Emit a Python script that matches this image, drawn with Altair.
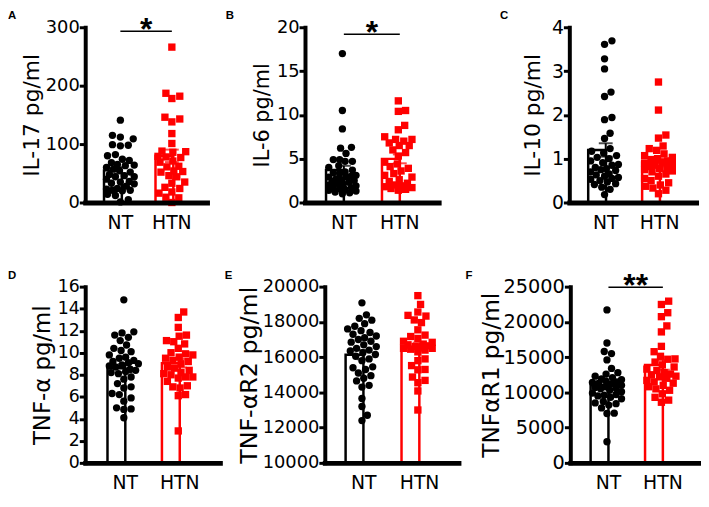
import altair as alt
import pandas as pd

GROUPS = ["NT", "HTN"]

# ---------------- data ----------------
il17_nt = [141, 115, 112, 109, 99, 97, 98, 82, 80, 74, 72, 65, 63, 64, 57, 55, 46, 44, 35, 33,
           23, 21, 14, 12, 5, 1, 68, 60, 52, 48, 44, 40, 36, 32, 28, 24, 20, 21]
il17_htn = [266, 182, 178, 187, 143, 138, 146, 118, 101, 88, 86, 87, 79, 77, 78, 71, 69, 62, 61,
            54, 52, 53, 46, 44, 35, 33, 26, 24, 18, 16, 9, 8, 0]

il6_nt = [17.0, 10.5, 8.4, 6.2, 6.3, 5.6, 4.9, 4.7, 4.9, 4.7, 4.2, 4.0, 3.7, 3.5, 3.3, 3.4, 3.1,
          3.0, 2.9, 2.9, 2.6, 2.7, 2.5, 2.3, 2.4, 2.2, 2.1, 2.0, 1.9, 1.7, 1.8, 1.6, 1.5, 1.4, 1.2,
          1.3, 1.1, 1.0]
il6_htn = [11.6, 10.4, 10.5, 8.8, 8.3, 7.5, 7.2, 7.2, 6.8, 6.5, 7.0, 6.5, 6.0, 5.7, 5.3, 4.6, 4.4,
           4.1, 3.9, 3.6, 3.3, 3.1, 2.9, 2.6, 2.4, 2.2, 2.0, 1.9, 1.8, 1.7, 1.6, 1.5, 1.4]

il10_nt = [3.61, 3.69, 3.28, 3.05, 2.42, 2.52, 1.94, 1.89, 1.58, 1.46, 1.23, 1.17, 1.13, 1.07,
           1.03, 1.00, 0.95, 0.91, 0.87, 0.85, 0.80, 0.77, 0.75, 0.73, 0.70, 0.65, 0.63, 0.60,
           0.57, 0.55, 0.53, 0.50, 0.47, 0.43, 0.41, 0.35, 0.30, 0.18]
il10_htn = [2.75, 2.11, 1.54, 1.47, 1.29, 1.23, 1.19, 1.11, 1.07, 1.03, 1.00, 0.98, 0.95, 0.92,
            0.90, 0.87, 0.85, 0.82, 0.80, 0.78, 0.75, 0.72, 0.70, 0.65, 0.60, 0.55, 0.50, 0.45,
            0.40, 0.37, 0.33, 0.28, 0.20]

tnfa_nt = [14.8, 11.9, 11.8, 11.6, 11.4, 11.1, 10.7, 10.4, 10.2, 10.1, 9.8, 9.5, 9.3, 9.2, 8.9,
           9.0, 8.4, 7.8, 8.1, 7.2, 6.9, 6.8, 6.3, 5.9, 6.2, 5.6, 5.0, 4.9, 4.85, 4.1, 8.7, 8.5,
           8.8, 8.3, 9.1, 8.2, 7.6, 9.6]
tnfa_htn = [13.7, 13.2, 12.3, 11.6, 11.0, 11.5, 10.8, 11.1, 10.4, 9.9, 9.8, 10.0, 9.6, 9.5, 9.3,
            9.2, 9.0, 8.7, 8.6, 8.4, 8.1, 8.0, 7.8, 6.9, 6.8, 6.2, 6.1, 2.9, 7.4, 7.7, 8.2, 7.0,
            7.8]

tnfr2_nt = [19080, 18400, 18200, 18100, 17900, 17750, 17600, 17500, 17400, 17300, 17200, 17100,
            17000, 16900, 16850, 16700, 16600, 16500, 16400, 16350, 16250, 16150, 16050, 15900,
            15800, 15450, 15400, 15300, 15100, 14950, 14800, 14650, 14400, 14300, 13650, 13200,
            12700, 12400]
tnfr2_htn = [19490, 18990, 18560, 18370, 18330, 18110, 17960, 17550, 17250, 17170, 17060, 16840,
             16740, 16640, 16600, 16500, 16450, 16400, 16550, 15800, 15900, 15520, 15300, 15280,
             14870, 14550, 14680, 14080, 13000, 16700, 16300, 16900, 16500]

tnfr1_nt = [21700, 17000, 15800, 15500, 14600, 13400, 12800, 12600, 12300, 12100, 11900, 11800,
            11600, 11500, 11400, 11300, 11200, 11000, 10800, 10700, 10600, 10500, 10300, 10100,
            9900, 9700, 9500, 9300, 9100, 8700, 8500, 8400, 7800, 7000, 7050, 8200, 9600, 3000]
tnfr1_htn = [22940, 22470, 20740, 21300, 19430, 18580, 16530, 15770, 15120, 14750, 14700, 14300,
             13900, 13600, 13300, 13100, 12800, 12600, 12300, 12500, 12200, 12000, 11700, 11500,
             11300, 11000, 10800, 10500, 10300, 9800, 9300, 8900, 8600]

# ---------------- styling ----------------
FONT = "DejaVu Sans"
BOLD_FONT = "Liberation Sans"
BLACK = "#000000"
RED = "#ff0000"
DOT = 8.0  # marker diameter (px) used by the swarm layout


def swarm(values, px_per_unit, half_band):
    """Deterministic beeswarm: horizontal offsets (in half-band units)."""
    limit = half_band - 2.0
    cands = [0.0]
    k = 1
    while k <= limit:
        cands += [float(k), float(-k)]
        k += 1
    placed = []
    out = [0.0] * len(values)
    for i in sorted(range(len(values)), key=lambda j: values[j]):
        y = values[i] * px_per_unit
        chosen, best_x, best_d = None, 0.0, -1.0
        for cx in cands:
            if placed:
                d = min(((cx - px) ** 2 + (y - py) ** 2) ** 0.5 for px, py in placed)
            else:
                d = 1e9
            if d >= DOT:
                chosen = cx
                break
            if d > best_d:
                best_d, best_x = d, cx
        if chosen is None:
            chosen = best_x
        placed.append((chosen, y))
        out[i] = chosen / half_band
    return out


def panel(letter, nt, htn, domain, ticks, title, axis_len, height, p_in, p_out,
          label_size, title_size, title_pad, letter_dx, letter_dy, cell_width, sig=None):
    step = axis_len / (2 - p_in + 2 * p_out)
    half_band = step * (1 - p_in) / 2
    ppu = height / (domain[1] - domain[0])
    rows = []
    for g, vals in (("NT", nt), ("HTN", htn)):
        offs = swarm([v - domain[0] for v in vals], ppu, half_band)
        for v, o in zip(vals, offs):
            rows.append({"group": g, "value": v, "off": o})
    df = pd.DataFrame(rows)

    xscale = alt.Scale(domain=GROUPS, paddingInner=p_in, paddingOuter=p_out,
                       range=[0, axis_len])
    yscale = alt.Scale(domain=domain, nice=False, zero=False)
    cscale = alt.Scale(domain=GROUPS, range=[BLACK, RED])
    xaxis = alt.Axis(title=None, labelAngle=0, ticks=False, domainWidth=5,
                     domainColor=BLACK, domainCap="square", labelFont=FONT,
                     labelFontSize=19, labelColor=BLACK, labelPadding=11, zindex=1)
    yaxis = alt.Axis(values=ticks, format="d", title=title, titleFont=FONT,
                     titleFontSize=title_size, titleFontWeight="normal", titleColor=BLACK,
                     titlePadding=title_pad, labelFont=FONT, labelFontSize=label_size,
                     labelColor=BLACK, labelPadding=0, labelFlush=False, labelOverlap=False,
                     tickSize=6, tickWidth=3, tickColor=BLACK, domainWidth=4,
                     domainColor=BLACK, domainCap="square", grid=False, zindex=1)

    base = alt.Chart(df)
    x = alt.X("group:N", scale=xscale, axis=xaxis, sort=GROUPS)
    bars = base.mark_bar(fill="white", strokeWidth=2.5).encode(
        x=x,
        y=alt.Y("mean(value):Q", scale=yscale, axis=yaxis),
        y2=alt.datum(domain[0]),
        stroke=alt.Stroke("group:N", scale=cscale, legend=None),
    )
    err = base.mark_errorbar(extent="stderr", ticks={"size": 14}, thickness=2).encode(
        x=x,
        y=alt.Y("value:Q", scale=yscale, axis=yaxis),
        color=alt.Color("group:N", scale=cscale, legend=None),
    )
    pts = base.mark_point(filled=True, opacity=1, size=55, strokeWidth=0).encode(
        x=x,
        xOffset=alt.XOffset("off:Q", scale=alt.Scale(domain=[-1, 1])),
        y=alt.Y("value:Q", scale=yscale, axis=yaxis),
        shape=alt.Shape("group:N", scale=alt.Scale(domain=GROUPS, range=["circle", "square"]),
                        legend=None),
        color=alt.Color("group:N", scale=cscale, legend=None),
    )
    layers = [bars, err, pts]
    if sig is not None:
        sdf = pd.DataFrame([{"a": "NT", "b": "HTN", "y": sig[0], "label": sig[1]}])
        rule = alt.Chart(sdf).mark_rule(color=BLACK, strokeWidth=1.5).encode(
            x=alt.X("a:N", scale=xscale, axis=xaxis, sort=GROUPS),
            x2="b:N",
            y=alt.Y("y:Q", scale=yscale, axis=yaxis),
        )
        star = alt.Chart(sdf).mark_text(font=BOLD_FONT, fontSize=32, fontWeight="bold",
                                        baseline="alphabetic", align="center", dy=9,
                                        dx=step * p_in / 2, color=BLACK).encode(
            x=alt.X("a:N", scale=xscale, axis=xaxis, sort=GROUPS, bandPosition=1),
            y=alt.Y("y:Q", scale=yscale, axis=yaxis),
            text="label:N",
        )
        layers += [rule, star]
    return alt.layer(*layers).properties(
        width=cell_width,
        height=height,
        title=alt.TitleParams(letter, anchor="start", frame="group", dx=letter_dx,
                              dy=letter_dy, offset=0, font=BOLD_FONT, fontSize=11.5,
                              fontWeight="bold", color=BLACK),
    )


A = panel("A", il17_nt, il17_htn, [0, 300], [0, 100, 200, 300], "IL-17 pg/ml",
          123, 177, 0.365, 0.365, 18, 22, 2, -78, 7.5, 222, sig=(293, "*"))
B = panel("B", il6_nt, il6_htn, [0, 20], [0, 5, 10, 15, 20], "IL-6 pg/ml",
          135, 177, 0.363, 0.376, 18, 21, 4, -80, 4.5, 267, sig=(19.2, "*"))
C = panel("C", il10_nt, il10_htn, [0, 4], [0, 1, 2, 3, 4], "IL-10 pg/ml",
          128, 177, 0.35, 0.35, 19, 22, 7, -70, 3.6, 128)
D = panel("D", tnfa_nt, tnfa_htn, [0, 16], list(range(0, 17, 2)), "TNF-α pg/ml",
          136, 178, 0.345, 0.409, 17.5, 23, 3, -78, 3.6, 242)
E = panel("E", tnfr2_nt, tnfr2_htn, [10000, 20000], list(range(10000, 20001, 2000)),
          "TNF-αR2 pg/ml", 135, 178, 0.354, 0.372, 18, 24, 1, -101, 3.6, 248)
F = panel("F", tnfr1_nt, tnfr1_htn, [0, 25000], list(range(0, 25001, 5000)),
          "TNFαR1 pg/ml", 132, 178, 0.345, 0.373, 19.5, 23.5, 0, -106, 10.9, 132,
          sig=(24900, "**"))

row1 = alt.hconcat(A, B, C, spacing=0, bounds="flush")
row2 = alt.hconcat(D, E, F, spacing=0, bounds="flush")
chart = alt.vconcat(row1, row2, spacing=38).properties(padding=0).configure_view(stroke=None)

chart.save("out.html", embed_options={"renderer": "svg", "actions": False})
